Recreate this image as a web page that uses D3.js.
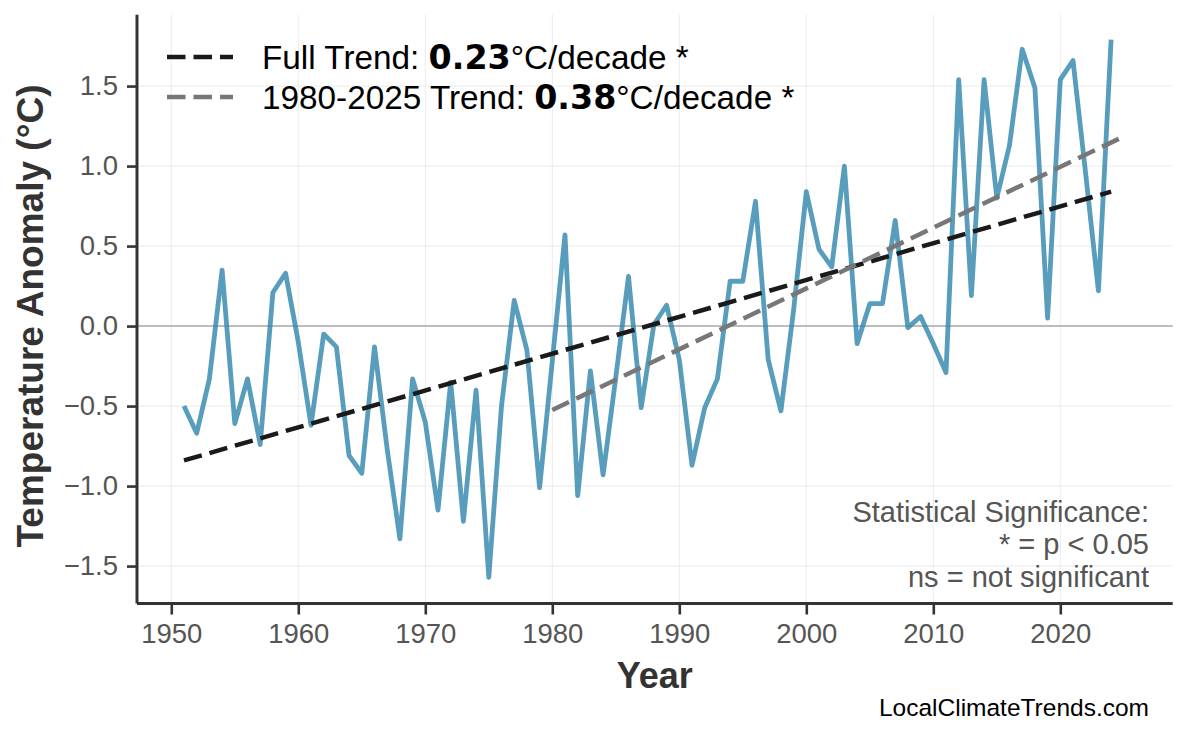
<!DOCTYPE html>
<html><head><meta charset="utf-8">
<script src="https://cdn.jsdelivr.net/npm/d3@7"></script>
<style>body{margin:0;background:#fff} svg{display:block}</style>
</head><body><svg id="chart" width="1186" height="737"></svg>
<script>
const years = [1951,1952,1953,1954,1955,1956,1957,1958,1959,1960,
  1961,1962,1963,1964,1965,1966,1967,1968,1969,1970,
  1971,1972,1973,1974,1975,1976,1977,1978,1979,1980,
  1981,1982,1983,1984,1985,1986,1987,1988,1989,1990,
  1991,1992,1993,1994,1995,1996,1997,1998,1999,2000,
  2001,2002,2003,2004,2005,2006,2007,2008,2009,2010,
  2011,2012,2013,2014,2015,2016,2017,2018,2019,2020,
  2021,2022,2023,2024];
const anomalies = [-0.50,-0.67,-0.33,0.35,-0.61,-0.33,-0.74,0.21,0.33,-0.10,
  -0.62,-0.05,-0.13,-0.81,-0.92,-0.13,-0.77,-1.33,-0.33,-0.60,
  -1.15,-0.35,-1.22,-0.40,-1.57,-0.50,0.16,-0.15,-1.01,-0.22,
  0.57,-1.06,-0.28,-0.93,-0.32,0.31,-0.51,0.01,0.13,-0.21,
  -0.87,-0.51,-0.33,0.28,0.28,0.78,-0.21,-0.53,0.10,0.84,
  0.48,0.37,1.00,-0.11,0.14,0.14,0.66,-0.01,0.06,-0.11,
  -0.29,1.54,0.19,1.54,0.80,1.13,1.73,1.49,0.05,1.54,
  1.66,0.95,0.22,1.79];
const xTicks = [1950,1960,1970,1980,1990,2000,2010,2020];
const yTicks = [-1.5,-1.0,-0.5,0.0,0.5,1.0,1.5];
const fullTrendYears = [1951, 2024];
const fullTrendValues = [-0.84, 0.84];
const recentTrendYears = [1980, 2025];
const recentTrendValues = [-0.525, 1.185];
const legendLabels = ["Full Trend: ", "1980-2025 Trend: "];
const legendRates = ["0.23", "0.38"];
const legendSuffix = "°C/decade *";
const noteLines = ["Statistical Significance:", "* = p < 0.05", "ns = not significant"];

const svg = d3.select("#chart");
const L = 137, R = 1172.7, T = 14.7, B = 603.5;
const x = d3.scaleLinear().domain([1947.3, 2028.85]).range([L, R]);
const y = d3.scaleLinear().domain([-1.734, 1.946]).range([B, T]);
const sans = "'Liberation Sans', Arial, sans-serif";

// grid
const grid = svg.append("g");
grid.selectAll("line.vx").data(xTicks).join("line")
  .attr("x1", d => x(d)).attr("x2", d => x(d)).attr("y1", T).attr("y2", B)
  .attr("stroke", "#ebebeb").attr("stroke-width", 1);
grid.selectAll("line.hy").data(yTicks).join("line")
  .attr("x1", L).attr("x2", R).attr("y1", d => y(d)).attr("y2", d => y(d))
  .attr("stroke", "#ebebeb").attr("stroke-width", 1);
// zero line
svg.append("line").attr("x1", L).attr("x2", R).attr("y1", y(0)).attr("y2", y(0))
  .attr("stroke", "#aaaaaa").attr("stroke-width", 1.6);

// data line
const pts = years.map((yr, i) => [yr, anomalies[i]]);
svg.append("path").datum(pts)
  .attr("d", d3.line().x(d => x(d[0])).y(d => y(d[1])))
  .attr("fill", "none").attr("stroke", "#2E86AB").attr("stroke-opacity", 0.8)
  .attr("stroke-width", 4.8).attr("stroke-linejoin", "round");

// trends
const tl = d3.line().x(d => x(d[0])).y(d => y(d[1]));
svg.append("path").datum(fullTrendYears.map((yr, i) => [yr, fullTrendValues[i]]))
  .attr("d", tl).attr("fill", "none").attr("stroke", "#1a1a1a")
  .attr("stroke-width", 4.5).attr("stroke-dasharray", "18.5 8");
svg.append("path").datum(recentTrendYears.map((yr, i) => [yr, recentTrendValues[i]]))
  .attr("d", tl).attr("fill", "none").attr("stroke", "#777777")
  .attr("stroke-width", 4.5).attr("stroke-dasharray", "18.5 8");

// axes
const xAxis = d3.axisBottom(x).tickValues(xTicks).tickFormat(d3.format("d")).tickSize(11).tickSizeOuter(0).tickPadding(9);
const yAxis = d3.axisLeft(y).tickValues(yTicks).tickFormat(d3.format(".1f")).tickSize(10).tickSizeOuter(0).tickPadding(9);
const gx = svg.append("g").attr("transform", `translate(0,${B})`).call(xAxis);
const gy = svg.append("g").attr("transform", `translate(${L},0)`).call(yAxis);
[gx, gy].forEach(g => {
  g.select(".domain").attr("stroke", "#333").attr("stroke-width", 3);
  g.selectAll(".tick line").attr("stroke", "#333").attr("stroke-width", 2.6);
  g.selectAll(".tick text").attr("fill", "#555").style("font-family", sans).style("font-size", "27.5px");
});
gx.select(".domain").attr("d", `M${L},0H${R}`);
gy.select(".domain").attr("d", `M0,${T}V${B}`);

// axis labels
svg.append("text").attr("x", (L + R) / 2).attr("y", 688).attr("text-anchor", "middle")
  .style("font-family", sans).style("font-weight", "bold").style("font-size", "36px")
  .attr("fill", "#333").text("Year");
svg.append("text").attr("transform", `translate(43,316) rotate(-90)`).attr("text-anchor", "middle")
  .style("font-family", sans).style("font-weight", "bold").style("font-size", "37px")
  .attr("fill", "#333").text("Temperature Anomaly (°C)");

// legend
const legColors = ["#1a1a1a", "#777777"];
const legY = [57, 97];
legendLabels.forEach((lab, i) => {
  svg.append("line").attr("x1", 167).attr("x2", 233).attr("y1", legY[i]).attr("y2", legY[i])
    .attr("stroke", legColors[i]).attr("stroke-width", 4.5).attr("stroke-dasharray", "18.5 8");
  const t = svg.append("text").attr("x", 262).attr("y", legY[i] + 11.5)
    .style("font-family", sans).style("font-size", "33.3px").attr("fill", "#000");
  t.append("tspan").text(lab);
  t.append("tspan").style("font-family", "'DejaVu Sans', sans-serif").style("font-weight", "bold").text(legendRates[i]);
  t.append("tspan").text(legendSuffix);
});

// note
const noteY = [522, 554, 587];
noteLines.forEach((s, i) => {
  svg.append("text").attr("x", 1149).attr("y", noteY[i]).attr("text-anchor", "end")
    .style("font-family", sans).style("font-size", "29px").attr("fill", "#555").text(s);
});
svg.append("text").attr("x", 1149).attr("y", 716).attr("text-anchor", "end")
  .style("font-family", sans).style("font-size", "24.5px").attr("fill", "#000").text("LocalClimateTrends.com");
</script></body></html>
